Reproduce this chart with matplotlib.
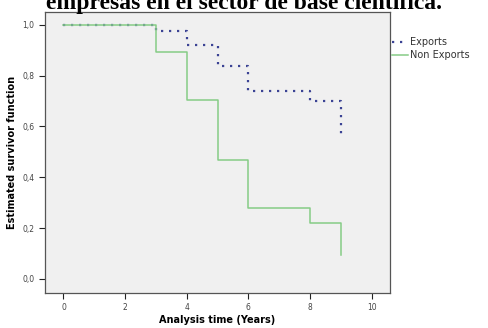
import numpy as np
import matplotlib.pyplot as plt

# Kaplan-Meier step values
years = [0, 3, 4, 5, 6, 8, 9]
exports = [1.0, 0.974, 0.921, 0.839, 0.74, 0.70, 0.571]
non_exports = [1.0, 0.895, 0.705, 0.468, 0.281, 0.22, 0.094]

xticks = [0, 2, 4, 6, 8, 10]
yticks = [0.0, 0.2, 0.4, 0.6, 0.8, 1.0]
ylabels = ["0,0", "0,2", "0,4", "0,6", "0,8", "1,0"]

fig = plt.figure(figsize=(4.89, 3.28), dpi=100)
ax = fig.add_axes([0.092, 0.107, 0.706, 0.856])
ax.set_facecolor("#f0f0f0")

ax.step(years, exports, where="post", color="#3b4394", ls=(0, (1, 2.6)), lw=1.6, label="Exports")
ax.step(years, non_exports, where="post", color="#86cc86", lw=1.1, label="Non Exports")

ax.set_xlim(-0.6, 10.6)
ax.set_ylim(-0.055, 1.05)
ax.set_xticks(xticks)
ax.set_yticks(yticks)
ax.set_yticklabels(ylabels)
ax.tick_params(labelsize=5.5, colors="#222222", labelcolor="#444444", length=4, width=0.8)
for s in ax.spines.values():
    s.set_color("#555555")
    s.set_linewidth(0.9)

ax.set_xlabel("Analysis time (Years)", fontsize=7, fontweight="bold", labelpad=2)
ax.set_ylabel("Estimated survivor function", fontsize=7, fontweight="bold", labelpad=4)

ax.legend(loc="upper left", bbox_to_anchor=(0.995, 0.925), frameon=False, fontsize=7,
          handlelength=1.6, handletextpad=0.2, borderaxespad=0, labelspacing=0.3,
          labelcolor="#333333")

# heading of the page, partly cut off at the top as in the screenshot
fig.text(0.5, 1 - 9 / 328, "empresas en el sector de base científica.", ha="center",
         va="baseline", fontsize=17, fontweight="bold", family="Liberation Serif")

plt.savefig("out.png", dpi=100)
